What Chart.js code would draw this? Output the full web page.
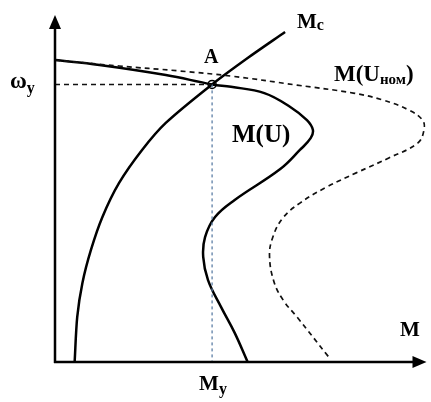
<!DOCTYPE html>
<html>
<head>
<meta charset="utf-8">
<script src="https://cdn.jsdelivr.net/npm/chart.js@4"></script>
<style>
  html, body { margin: 0; padding: 0; background: #fff; }
  #wrap { width: 431px; height: 402px; }
</style>
</head>
<body>
<div id="wrap"><canvas id="mech"></canvas></div>
<script>
// механическая характеристика при номинальном напряжении, M(Uном)
const uNomM = [0, 17.3, 33.3, 47.5, 65.3, 80.5, 88.5, 95.5, 99.2, 99.6, 97.9, 90.1, 81.3, 73.3, 66.1, 61.5, 58.8, 57.9, 59.2, 61.8, 65.3, 73.9];
const uNomW = [87.0, 85.3, 83.9, 82.4, 79.8, 77.5, 75.5, 72.6, 69.7, 66.9, 63.1, 58.8, 54.5, 50.4, 45.8, 41.5, 36.0, 30.5, 22.8, 17.5, 13.0, 1.4];

// характеристика при пониженном напряжении, M(U)
const uRedM = [0, 12.0, 29.9, 42.4, 47.5, 56.5, 63.5, 68.0, 69.6, 69.0, 66.1, 60.8, 48.5, 43.2, 40.5, 40.0, 41.3, 44.8, 48.5, 52.0];
const uRedW = [87.0, 85.6, 82.7, 80.0, 79.3, 77.5, 73.5, 69.7, 66.9, 64.5, 61.1, 55.6, 46.7, 41.8, 36.0, 30.3, 23.6, 15.9, 8.4, 0];

// момент сопротивления механизма, Mc
const loadM = [5.3, 6.0, 7.4, 9.7, 12.8, 17.3, 23.5, 29.9, 42.4, 52.0, 62.1];
const loadW = [0, 13.0, 22.8, 32.3, 41.8, 51.6, 61.1, 68.9, 80.0, 87.6, 95.1];

// рабочая точка A
const pointA = { M: 42.4, W: 80.0 };

const toXY = (xs, ys) => xs.map((x, i) => ({ x: x, y: ys[i] }));

const FONT = '"Liberation Serif", "Times New Roman", serif';

// оси со стрелками и подписи
const axesAndLabels = {
  id: 'axesAndLabels',
  afterDatasetsDraw(chart) {
    const { ctx, scales: { x, y } } = chart;
    const x0 = x.getPixelForValue(0);
    const y0 = y.getPixelForValue(0);
    const xEnd = x.getPixelForValue(100);
    const yEnd = y.getPixelForValue(100);

    ctx.save();
    ctx.strokeStyle = '#000';
    ctx.fillStyle = '#000';
    ctx.lineWidth = 2.5;
    ctx.beginPath();
    ctx.moveTo(x0, y0 + 1);
    ctx.lineTo(x0, yEnd + 10);
    ctx.moveTo(x0 - 1, y0);
    ctx.lineTo(xEnd - 10, y0);
    ctx.stroke();

    // стрелки
    ctx.beginPath();
    ctx.moveTo(x0, yEnd);
    ctx.lineTo(x0 - 6, yEnd + 14);
    ctx.lineTo(x0 + 6, yEnd + 14);
    ctx.closePath();
    ctx.fill();
    ctx.beginPath();
    ctx.moveTo(xEnd + 1, y0);
    ctx.lineTo(xEnd - 13, y0 - 6);
    ctx.lineTo(xEnd - 13, y0 + 6);
    ctx.closePath();
    ctx.fill();

    const ax = x.getPixelForValue(pointA.M);
    const ay = y.getPixelForValue(pointA.W);

    const label = (parts, px, py) => {
      let cx = px;
      parts.forEach(p => {
        ctx.font = 'bold ' + p.size + 'px ' + FONT;
        ctx.fillText(p.t, cx, py + (p.dy || 0));
        cx += ctx.measureText(p.t).width;
      });
    };
    ctx.textBaseline = 'alphabetic';
    ctx.textAlign = 'left';

    label([{ t: 'ω', size: 23 }, { t: 'y', size: 16, dy: 5 }], 10, ay + 4);
    label([{ t: 'M', size: 21 }, { t: 'y', size: 16, dy: 4 }], ax - 13, 390);
    label([{ t: 'A', size: 20 }], ax - 8, ay - 21);
    label([{ t: 'M', size: 21 }, { t: 'c', size: 16, dy: 2 }], 297, 28);
    label([{ t: 'M(U', size: 23 }, { t: 'ном', size: 15, dy: 3 }, { t: ')', size: 23 }], 334, 81);
    label([{ t: 'M(U)', size: 25 }], 232, 142);
    label([{ t: 'M', size: 21 }], 400, 336);
    ctx.restore();
  }
};

new Chart(document.getElementById('mech'), {
  type: 'scatter',
  data: {
    datasets: [
      {
        label: 'M(Uном)',
        data: toXY(uNomM, uNomW),
        showLine: true,
        borderColor: '#111',
        borderWidth: 1.7,
        borderDash: [5, 4],
        tension: 0.4,
        pointRadius: 0
      },
      {
        label: 'ωy',
        data: [{ x: 0, y: pointA.W }, { x: pointA.M, y: pointA.W }],
        showLine: true,
        borderColor: '#111',
        borderWidth: 1.5,
        borderDash: [5, 4],
        pointRadius: 0
      },
      {
        label: 'My',
        data: [{ x: pointA.M, y: pointA.W }, { x: pointA.M, y: 0 }],
        showLine: true,
        borderColor: '#5d7fa6',
        borderWidth: 1.3,
        borderDash: [3, 3],
        pointRadius: 0
      },
      {
        label: 'M(U)',
        data: toXY(uRedM, uRedW),
        showLine: true,
        borderColor: '#000',
        borderWidth: 2.5,
        tension: 0.4,
        pointRadius: 0
      },
      {
        label: 'Mc',
        data: toXY(loadM, loadW),
        showLine: true,
        borderColor: '#000',
        borderWidth: 2.5,
        tension: 0.3,
        pointRadius: 0
      },
      {
        label: 'A',
        data: [{ x: pointA.M, y: pointA.W }],
        pointRadius: 4,
        pointBackgroundColor: '#fff',
        pointBorderColor: '#000',
        pointBorderWidth: 1.5
      }
    ]
  },
  options: {
    responsive: true,
    maintainAspectRatio: false,
    animation: false,
    layout: { padding: { left: 55, right: 1, top: 15, bottom: 40 } },
    scales: {
      x: { type: 'linear', min: 0, max: 100, display: false },
      y: { type: 'linear', min: 0, max: 100, display: false }
    },
    plugins: {
      legend: { display: false },
      tooltip: { enabled: false }
    }
  },
  plugins: [axesAndLabels]
});
</script>
</body>
</html>
